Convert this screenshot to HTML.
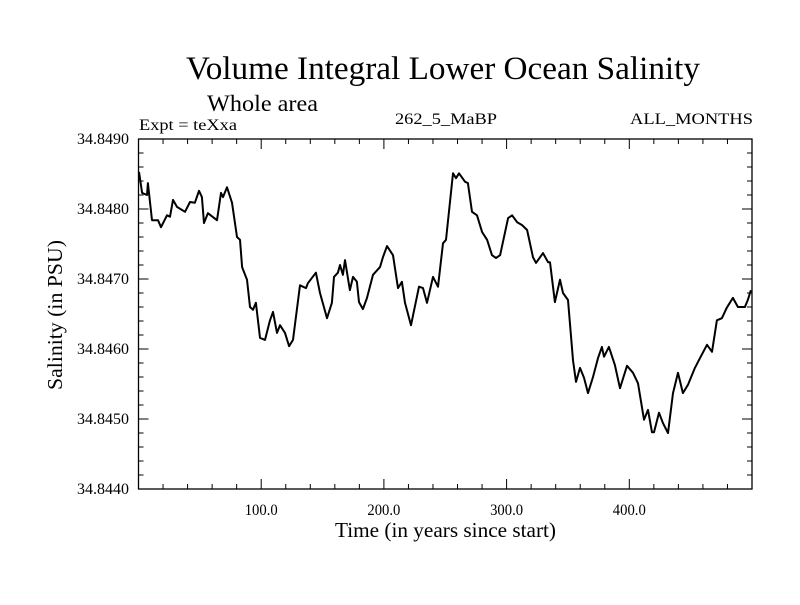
<!DOCTYPE html>
<html><head><meta charset="utf-8"><style>
html,body{margin:0;padding:0;background:#fff;}
svg text{font-family:"Liberation Serif",serif;fill:#000;}
</style></head><body>
<svg id="chart" width="800" height="600" viewBox="0 0 800 600" xmlns="http://www.w3.org/2000/svg">
<rect width="800" height="600" fill="#fff"/>
<text x="186" y="79" font-size="33" textLength="514" lengthAdjust="spacingAndGlyphs">Volume Integral Lower Ocean Salinity</text>
<text x="207" y="111" font-size="23" textLength="111" lengthAdjust="spacingAndGlyphs">Whole area</text>
<text x="139" y="130" font-size="16" textLength="98" lengthAdjust="spacingAndGlyphs">Expt = teXxa</text>
<text x="395" y="124" font-size="16" textLength="102" lengthAdjust="spacingAndGlyphs">262_5_MaBP</text>
<text x="630" y="124" font-size="16" textLength="123" lengthAdjust="spacingAndGlyphs">ALL_MONTHS</text>
<text x="335" y="537" font-size="21" textLength="221" lengthAdjust="spacingAndGlyphs">Time (in years since start)</text>
<text x="62" y="315" font-size="21" text-anchor="middle" textLength="150" lengthAdjust="spacingAndGlyphs" transform="rotate(-90 62 315)">Salinity (in PSU)</text>
<g id="axes"></g>
<path id="series" fill="none" stroke="#000" stroke-width="2" stroke-linejoin="round"/>
<rect x="138.5" y="139" width="613.5" height="350" fill="none" stroke="#000" stroke-width="1.3"/>
</svg>
<script>
const years = [0.4,2.9,6.9,7.7,11.0,15.9,18.3,23.2,25.7,28.1,31.4,37.9,42.0,46.0,49.3,51.7,53.4,56.6,64.0,67.2,68.9,72.1,76.2,80.3,82.7,84.4,88.4,90.9,93.3,95.7,99.0,103.1,107.2,109.6,112.9,115.3,119.4,122.7,125.9,131.6,136.5,138.1,144.6,147.9,153.6,157.6,159.3,162.5,164.2,166.6,168.3,
172.3,174.8,178.0,179.7,182.9,186.2,191.1,196.8,199.2,202.5,207.4,211.5,214.7,217.2,222.1,228.6,231.9,235.1,240.0,244.1,248.2,250.6,256.3,258.8,261.2,266.1,268.5,271.8,275.9,280.0,284.1,288.1,291.4,294.7,301.2,304.5,308.6,312.6,316.7,321.5,324.0,329.7,333.8,
335.4,339.4,343.5,346.0,350.0,354.1,356.6,359.8,363.1,366.3,370.4,374.5,377.7,379.4,383.4,388.3,392.4,398.1,403.0,407.1,412.0,415.2,418.5,420.1,424.2,427.5,431.5,435.6,439.7,443.7,447.8,453.5,457.6,463.3,467.4,471.4,475.5,479.5,484.4,488.5,494.2,496.6,499.1];
const salinity = [34.84853,34.84823,34.84820,34.84837,34.84784,34.84784,34.84774,34.84791,34.84789,34.84813,34.84803,34.84796,34.84810,34.84809,34.84826,34.84817,34.84780,34.84794,34.84784,34.84823,34.84817,34.84831,34.84809,34.84760,34.84756,34.84717,34.84699,34.84660,34.84656,34.84666,34.84616,34.84613,34.84641,34.84653,34.84623,34.84634,34.84623,34.84604,34.84613,34.84691,34.84687,34.84694,34.84709,34.84680,34.84644,34.84666,34.84703,34.84709,34.84720,34.84706,34.84727,
34.84684,34.84703,34.84696,34.84667,34.84657,34.84673,34.84706,34.84717,34.84731,34.84747,34.84734,34.84687,34.84696,34.84666,34.84634,34.84689,34.84687,34.84666,34.84703,34.84689,34.84751,34.84756,34.84851,34.84844,34.84851,34.84839,34.84837,34.84796,34.84791,34.84767,34.84756,34.84734,34.84730,34.84734,34.84787,34.84791,34.84781,34.84777,34.84770,34.84731,34.84723,34.84737,34.84724,
34.84724,34.84667,34.84699,34.84680,34.84670,34.84584,34.84553,34.84573,34.84559,34.84537,34.84560,34.84587,34.84603,34.84589,34.84603,34.84577,34.84544,34.84576,34.84566,34.84551,34.84499,34.84513,34.84481,34.84481,34.84509,34.84494,34.84480,34.84537,34.84566,34.84537,34.84549,34.84573,34.84587,34.84606,34.84596,34.84641,34.84644,34.84659,34.84673,34.84660,34.84660,34.84670,34.84684];
const xTickValues = [100, 200, 300, 400];
const xTickLabels = ["100.0", "200.0", "300.0", "400.0"];
const yTickValues = [34.844, 34.845, 34.846, 34.847, 34.848, 34.849];
const yTickLabels = ["34.8440", "34.8450", "34.8460", "34.8470", "34.8480", "34.8490"];

const X0 = 138.5, X1 = 752, Y0 = 489, Y1 = 139;
const xMin = 0, xMax = 500, yMin = 34.844, yMax = 34.849;
function xs(v){ return X0 + (v - xMin) / (xMax - xMin) * (X1 - X0); }
function ys(v){ return Y0 - (v - yMin) / (yMax - yMin) * (Y0 - Y1); }

const NS = "http://www.w3.org/2000/svg";
const axes = document.getElementById("axes");
function line(x1,y1,x2,y2,name){
  const l = document.createElementNS(NS, "line");
  l.setAttribute("x1", x1); l.setAttribute("y1", y1);
  l.setAttribute("x2", x2); l.setAttribute("y2", y2);
  l.setAttribute("stroke", "#000"); l.setAttribute("stroke-width", "1");
  
  
  axes.appendChild(l);
}
function text(x,y,s,anchor,len,name){
  const t = document.createElementNS(NS, "text");
  t.setAttribute("x", x); t.setAttribute("y", y);
  t.setAttribute("font-size", "16"); t.setAttribute("text-anchor", anchor);
  t.setAttribute("textLength", len); t.setAttribute("lengthAdjust", "spacingAndGlyphs");
  t.textContent = s;
  
  
  axes.appendChild(t);
}
for (let v = 20; v < xMax; v += 20) {
  const major = v % 100 === 0;
  const len = major ? 10 : 5;
  const x = xs(v);
  line(x, Y0, x, Y0 - len, "x-tick");
  line(x, Y1, x, Y1 + len, "x-tick-top");
}
xTickValues.forEach((v, i) => text(xs(v), Y0 + 26, xTickLabels[i], "middle", 33, "x-tick-label"));
for (let k = 1; k < 25; k++) {
  const v = yMin + k * 0.0002;
  const major = k % 5 === 0;
  const len = major ? 10 : 5;
  const y = ys(v);
  line(X0, y, X0 + len, y, "y-tick");
  line(X1, y, X1 - len, y, "y-tick-right");
}
yTickValues.forEach((v, i) => text(129, ys(v) + 5, yTickLabels[i], "end", 52, "y-tick-label"));

let d = "";
years.forEach((yr, i) => { d += (i ? "L" : "M") + xs(yr).toFixed(1) + "," + ys(salinity[i]).toFixed(1); });
document.getElementById("series").setAttribute("d", d);
</script>
</body></html>
